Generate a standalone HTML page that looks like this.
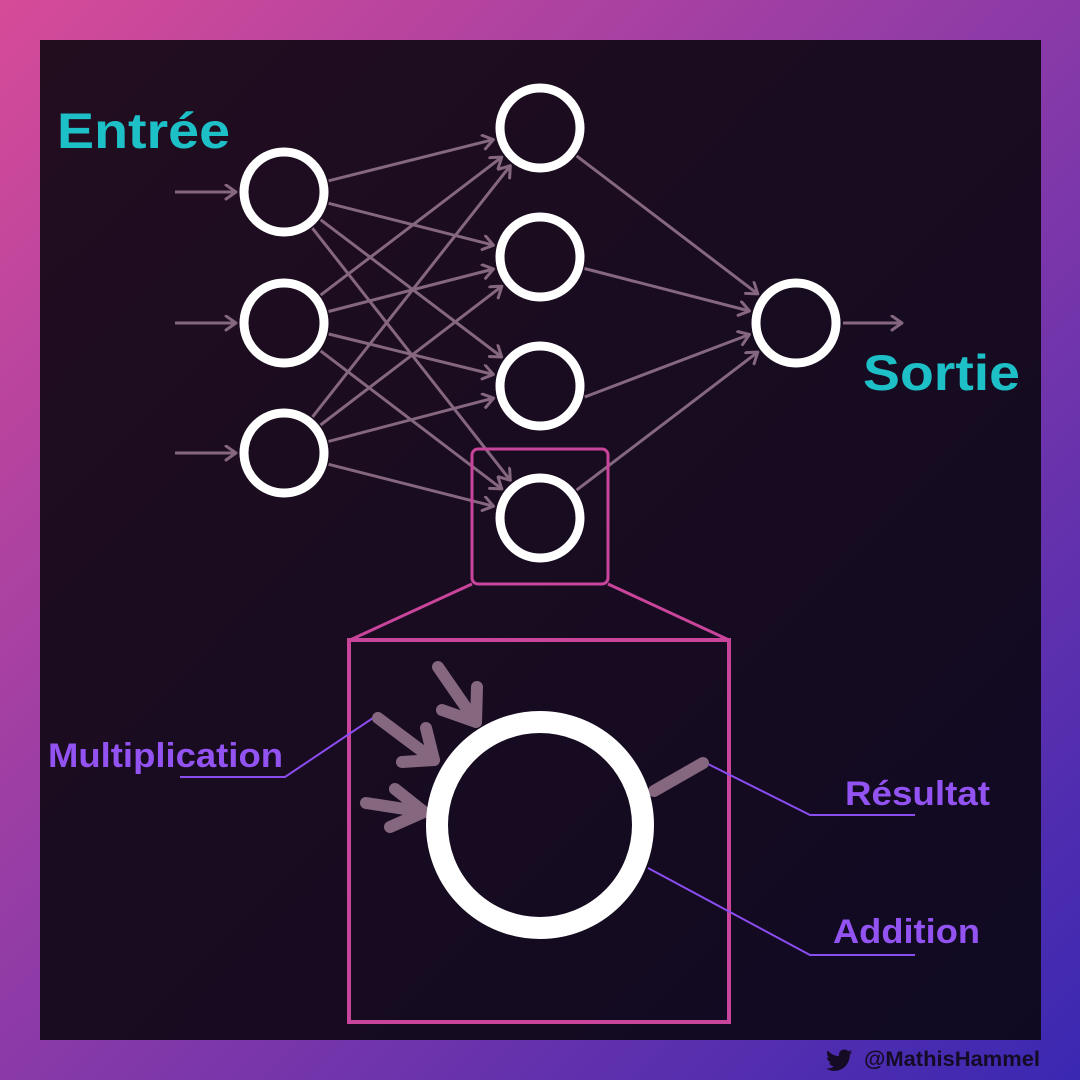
<!DOCTYPE html>
<html><head><meta charset="utf-8"><style>
html,body{margin:0;padding:0;width:1080px;height:1080px;overflow:hidden}
svg{display:block}
text{font-family:"Liberation Sans",sans-serif;font-weight:bold}
</style></head><body>
<svg width="1080" height="1080" viewBox="0 0 1080 1080" xmlns="http://www.w3.org/2000/svg">
<defs>
<linearGradient id="bg" x1="0" y1="0" x2="1" y2="1">
<stop offset="0" stop-color="#d64b98"/><stop offset="0.5" stop-color="#8a3aa8"/><stop offset="1" stop-color="#3a28b2"/>
</linearGradient>
<linearGradient id="pn" x1="0" y1="0" x2="1" y2="1">
<stop offset="0" stop-color="#220d1f"/><stop offset="1" stop-color="#0f0a22"/>
</linearGradient>
<marker id="ah" markerUnits="userSpaceOnUse" markerWidth="24" markerHeight="24" refX="12" refY="8" orient="auto">
<polyline points="2,1 12,8 2,15" fill="none" stroke="#85677f" stroke-width="3" stroke-linecap="round" stroke-linejoin="round"/>
</marker>
</defs>
<rect width="1080" height="1080" fill="url(#bg)"/>
<rect x="40" y="40" width="1001" height="1000" fill="url(#pn)"/>

<g stroke="#85677f" stroke-width="3" fill="none" marker-end="url(#ah)">
<line x1="175" y1="192" x2="236" y2="192"/>
<line x1="175" y1="323" x2="236" y2="323"/>
<line x1="175" y1="453" x2="236" y2="453"/>
<line x1="843" y1="323" x2="902" y2="323"/>
<line x1="328.6" y1="180.8" x2="493.4" y2="139.6"/>
<line x1="328.6" y1="203.3" x2="493.5" y2="245.2"/>
<line x1="320.7" y1="219.8" x2="501.7" y2="357"/>
<line x1="312.4" y1="228.2" x2="510.3" y2="480.3"/>
<line x1="320.6" y1="295.1" x2="501.8" y2="157.1"/>
<line x1="328.5" y1="311.5" x2="493.5" y2="269"/>
<line x1="328.7" y1="334" x2="493.4" y2="374.5"/>
<line x1="320.6" y1="350.9" x2="501.8" y2="488.9"/>
<line x1="312.5" y1="416.9" x2="510.3" y2="165.7"/>
<line x1="320.5" y1="425" x2="501.9" y2="286.2"/>
<line x1="328.5" y1="441.4" x2="493.6" y2="398.1"/>
<line x1="328.6" y1="464.3" x2="493.5" y2="506.2"/>
<line x1="576.6" y1="155.9" x2="757.8" y2="293.9"/>
<line x1="584.5" y1="268.5" x2="749.5" y2="311"/>
<line x1="584.7" y1="397" x2="749.4" y2="334.5"/>
<line x1="576.6" y1="490.1" x2="757.8" y2="352.1"/>
</g>

<g fill="none" stroke="#fff" stroke-width="9">
<circle cx="284" cy="192" r="40"/>
<circle cx="284" cy="323" r="40"/>
<circle cx="284" cy="453" r="40"/>
<circle cx="540" cy="128" r="40"/>
<circle cx="540" cy="257" r="40"/>
<circle cx="540" cy="386" r="40"/>
<circle cx="540" cy="518" r="40"/>
<circle cx="796" cy="323" r="40"/>
</g>

<g fill="none" stroke="#c9449b">
<rect x="472" y="449" width="136" height="135" rx="6" stroke-width="3"/>
<line x1="472" y1="584" x2="350" y2="640" stroke-width="3"/>
<line x1="608" y1="584" x2="729" y2="640" stroke-width="3"/>
<rect x="349" y="640" width="380" height="382" stroke-width="4"/>
</g>

<g stroke="#8b4cf0" stroke-width="2" fill="none">
<polyline points="180,777 285,777 373,718"/>
<polyline points="708,764 810,815 915,815"/>
<polyline points="648,868 810,955 915,955"/>
</g>

<g stroke="#85677f" stroke-width="12" fill="none" stroke-linecap="round" stroke-linejoin="round">
<line x1="438" y1="667" x2="476" y2="722"/>
<polyline points="442,710 476,722 477,687"/>
<line x1="378" y1="718" x2="434" y2="760"/>
<polyline points="402,762 434,760 426,728"/>
<line x1="366" y1="803" x2="424" y2="812"/>
<polyline points="390,827 424,812 395,789"/>
<line x1="654" y1="791" x2="703" y2="763"/>
</g>
<circle cx="540" cy="825" r="103" fill="none" stroke="#fff" stroke-width="22"/>

<text x="57" y="148" font-size="50" fill="#1ec0c8" textLength="173" lengthAdjust="spacingAndGlyphs">Entrée</text>
<text x="863" y="390" font-size="50" fill="#1ec0c8" textLength="157" lengthAdjust="spacingAndGlyphs">Sortie</text>
<text x="48" y="767" font-size="34" fill="#9352f2" textLength="235" lengthAdjust="spacingAndGlyphs">Multiplication</text>
<text x="845" y="805" font-size="34" fill="#9352f2" textLength="145" lengthAdjust="spacingAndGlyphs">Résultat</text>
<text x="833" y="943" font-size="34" fill="#9352f2" textLength="147" lengthAdjust="spacingAndGlyphs">Addition</text>

<path transform="translate(826,1047) scale(1.1)" fill="#150b25" d="M23.954 4.569c-.885.389-1.83.654-2.825.775 1.014-.611 1.794-1.574 2.163-2.723-.951.555-2.005.959-3.127 1.184-.896-.959-2.173-1.555-3.591-1.555-2.717 0-4.92 2.203-4.92 4.917 0 .39.045.765.127 1.124C7.691 8.094 4.066 6.13 1.64 3.161c-.427.722-.666 1.561-.666 2.475 0 1.71.87 3.213 2.188 4.096-.807-.026-1.566-.248-2.228-.616v.061c0 2.385 1.693 4.374 3.946 4.827-.413.111-.849.171-1.296.171-.314 0-.615-.03-.916-.086.631 1.953 2.445 3.377 4.604 3.417-1.68 1.319-3.809 2.105-6.102 2.105-.39 0-.779-.023-1.17-.067 2.189 1.394 4.768 2.209 7.557 2.209 9.054 0 13.999-7.496 13.999-13.986 0-.209 0-.42-.015-.63.961-.689 1.8-1.65 2.46-2.55z"/>
<text x="864" y="1066" font-size="21" fill="#150b25" textLength="176" lengthAdjust="spacingAndGlyphs">@MathisHammel</text>
</svg>
</body></html>
